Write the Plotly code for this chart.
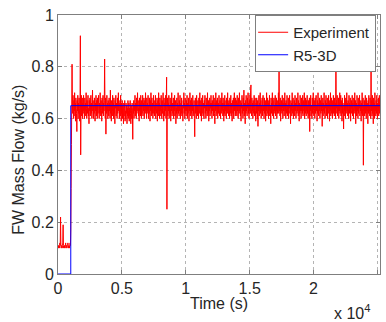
import numpy as np
import plotly.graph_objects as go

# Experiment: feedwater mass flow sampled every 25 s (kg/s), one row = 500 s
exp_dt = 25.0
exp_flow = [
    0.11, 0.10, 0.11, 0.11, 0.10, 0.11, 0.12, 0.11, 0.22, 0.11, 0.10, 0.11, 0.11, 0.10, 0.11, 0.12, 0.19, 0.11, 0.10, 0.11,
    0.11, 0.10, 0.11, 0.11, 0.12, 0.10, 0.11, 0.11, 0.10, 0.11, 0.11, 0.12, 0.11, 0.10, 0.11, 0.11, 0.10, 0.11, 0.12, 0.11,
    0.17, 0.33, 0.50, 0.65, 0.81, 0.66, 0.62, 0.69, 0.64, 0.60, 0.67, 0.63, 0.70, 0.61, 0.66, 0.59, 0.68, 0.64, 0.62, 0.55,
    0.67, 0.63, 0.69, 0.60, 0.66, 0.62, 0.68, 0.64, 0.59, 0.67, 0.92, 0.46, 0.65, 0.69, 0.61, 0.64, 0.68, 0.60, 0.66, 0.63,
    0.69, 0.62, 0.65, 0.60, 0.68, 0.63, 0.66, 0.61, 0.70, 0.64, 0.60, 0.67, 0.62, 0.66, 0.69, 0.61, 0.64, 0.58, 0.67, 0.63,
    0.68, 0.61, 0.65, 0.69, 0.62, 0.66, 0.60, 0.64, 0.71, 0.63, 0.67, 0.60, 0.65, 0.62, 0.68, 0.64, 0.59, 0.66, 0.63, 0.69,
    0.61, 0.67, 0.64, 0.60, 0.68, 0.62, 0.65, 0.69, 0.63, 0.60, 0.66, 0.62, 0.70, 0.64, 0.61, 0.67, 0.63, 0.59, 0.68, 0.65,
    0.62, 0.69, 0.61, 0.66, 0.63, 0.67, 0.83, 0.64, 0.60, 0.68, 0.54, 0.65, 0.62, 0.69, 0.63, 0.66, 0.60, 0.67, 0.64, 0.61,
    0.68, 0.63, 0.66, 0.60, 0.71, 0.62, 0.65, 0.59, 0.67, 0.64, 0.61, 0.69, 0.63, 0.66, 0.60, 0.68, 0.62, 0.65, 0.58, 0.67,
    0.64, 0.69, 0.61, 0.66, 0.63, 0.60, 0.68, 0.62, 0.65, 0.70, 0.63, 0.67, 0.60, 0.64, 0.66, 0.61, 0.69, 0.63, 0.59, 0.66,
    0.62, 0.67, 0.60, 0.65, 0.63, 0.58, 0.66, 0.61, 0.64, 0.67, 0.59, 0.63, 0.60, 0.66, 0.62, 0.65, 0.58, 0.64, 0.61, 0.67,
    0.60, 0.63, 0.66, 0.59, 0.64, 0.61, 0.67, 0.62, 0.58, 0.65, 0.63, 0.60, 0.66, 0.61, 0.52, 0.64, 0.62, 0.67, 0.60, 0.65,
    0.63, 0.69, 0.61, 0.66, 0.64, 0.60, 0.68, 0.62, 0.65, 0.70, 0.63, 0.67, 0.61, 0.64, 0.59, 0.68, 0.63, 0.66, 0.61, 0.69,
    0.64, 0.60, 0.67, 0.62, 0.65, 0.69, 0.61, 0.66, 0.63, 0.68, 0.60, 0.64, 0.67, 0.62, 0.70, 0.63, 0.65, 0.60, 0.68, 0.62,
    0.66, 0.63, 0.69, 0.60, 0.65, 0.62, 0.68, 0.64, 0.59, 0.67, 0.63, 0.70, 0.61, 0.65, 0.68, 0.62, 0.66, 0.60, 0.64, 0.69,
    0.62, 0.67, 0.61, 0.65, 0.63, 0.69, 0.60, 0.66, 0.64, 0.62, 0.68, 0.59, 0.65, 0.67, 0.61, 0.70, 0.63, 0.66, 0.60, 0.68,
    0.63, 0.65, 0.61, 0.69, 0.64, 0.60, 0.67, 0.62, 0.66, 0.70, 0.63, 0.59, 0.68, 0.64, 0.61, 0.66, 0.63, 0.69, 0.60, 0.67,
    0.76, 0.25, 0.64, 0.68, 0.61, 0.66, 0.63, 0.69, 0.60, 0.65, 0.62, 0.68, 0.64, 0.59, 0.67, 0.63, 0.70, 0.61, 0.66, 0.64,
    0.62, 0.68, 0.60, 0.66, 0.63, 0.69, 0.61, 0.65, 0.67, 0.58, 0.64, 0.62, 0.68, 0.60, 0.66, 0.63, 0.70, 0.62, 0.65, 0.61,
    0.67, 0.63, 0.69, 0.60, 0.64, 0.66, 0.62, 0.68, 0.61, 0.65, 0.63, 0.59, 0.67, 0.64, 0.70, 0.62, 0.66, 0.60, 0.68, 0.63,
    0.65, 0.61, 0.67, 0.63, 0.69, 0.60, 0.66, 0.62, 0.64, 0.68, 0.59, 0.65, 0.63, 0.70, 0.61, 0.67, 0.64, 0.62, 0.68, 0.60,
    0.66, 0.63, 0.69, 0.61, 0.65, 0.62, 0.67, 0.60, 0.53, 0.64, 0.68, 0.62, 0.66, 0.60, 0.69, 0.63, 0.65, 0.61, 0.67, 0.64,
    0.60, 0.68, 0.62, 0.66, 0.70, 0.63, 0.61, 0.67, 0.64, 0.59, 0.68, 0.62, 0.65, 0.69, 0.61, 0.66, 0.63, 0.60, 0.67, 0.64,
    0.69, 0.62, 0.65, 0.60, 0.68, 0.63, 0.66, 0.61, 0.70, 0.64, 0.62, 0.67, 0.59, 0.65, 0.63, 0.68, 0.61, 0.66, 0.64, 0.69,
    0.62, 0.66, 0.60, 0.67, 0.63, 0.65, 0.69, 0.61, 0.64, 0.68, 0.62, 0.58, 0.66, 0.63, 0.70, 0.61, 0.65, 0.67, 0.62, 0.68,
    0.60, 0.64, 0.66, 0.62, 0.69, 0.63, 0.61, 0.67, 0.64, 0.60, 0.68, 0.62, 0.65, 0.70, 0.63, 0.66, 0.61, 0.68, 0.64, 0.59,
    0.66, 0.62, 0.69, 0.61, 0.65, 0.63, 0.67, 0.60, 0.68, 0.64, 0.62, 0.70, 0.63, 0.66, 0.61, 0.67, 0.64, 0.60, 0.68, 0.62,
    0.65, 0.69, 0.61, 0.66, 0.63, 0.59, 0.67, 0.64, 0.62, 0.68, 0.60, 0.65, 0.70, 0.63, 0.66, 0.61, 0.68, 0.62, 0.64, 0.67,
    0.61, 0.69, 0.63, 0.66, 0.60, 0.68, 0.64, 0.62, 0.70, 0.63, 0.65, 0.61, 0.67, 0.59, 0.66, 0.64, 0.69, 0.62, 0.65, 0.60,
    0.68, 0.63, 0.71, 0.61, 0.66, 0.64, 0.58, 0.67, 0.62, 0.69, 0.63, 0.65, 0.61, 0.68, 0.64, 0.70, 0.62, 0.66, 0.60, 0.67,
    0.63, 0.69, 0.62, 0.71, 0.73, 0.64, 0.61, 0.68, 0.63, 0.66, 0.60, 0.67, 0.64, 0.62, 0.69, 0.61, 0.65, 0.68, 0.63, 0.59,
    0.66, 0.62, 0.68, 0.64, 0.60, 0.67, 0.57, 0.65, 0.63, 0.69, 0.61, 0.66, 0.64, 0.70, 0.62, 0.67, 0.60, 0.65, 0.63, 0.68,
    0.61, 0.66, 0.69, 0.63, 0.65, 0.60, 0.68, 0.62, 0.64, 0.67, 0.59, 0.66, 0.63, 0.70, 0.61, 0.65, 0.68, 0.62, 0.66, 0.60,
    0.67, 0.63, 0.69, 0.61, 0.65, 0.64, 0.58, 0.68, 0.62, 0.66, 0.63, 0.70, 0.61, 0.67, 0.64, 0.60, 0.68, 0.63, 0.65, 0.62,
    0.69, 0.61, 0.66, 0.63, 0.68, 0.60, 0.65, 0.62, 0.67, 0.64, 0.70, 0.62, 0.86, 0.63, 0.66, 0.61, 0.68, 0.59, 0.65, 0.63,
    0.67, 0.62, 0.69, 0.64, 0.60, 0.66, 0.63, 0.68, 0.61, 0.65, 0.70, 0.63, 0.66, 0.60, 0.67, 0.64, 0.62, 0.69, 0.61, 0.65,
    0.63, 0.68, 0.60, 0.66, 0.64, 0.69, 0.62, 0.65, 0.58, 0.67, 0.63, 0.66, 0.61, 0.70, 0.64, 0.62, 0.68, 0.60, 0.65, 0.63,
    0.67, 0.61, 0.69, 0.63, 0.66, 0.60, 0.64, 0.68, 0.62, 0.65, 0.63, 0.70, 0.61, 0.67, 0.64, 0.59, 0.66, 0.62, 0.69, 0.63,
    0.65, 0.60, 0.68, 0.63, 0.66, 0.62, 0.69, 0.61, 0.64, 0.67, 0.63, 0.70, 0.60, 0.66, 0.62, 0.68, 0.64, 0.61, 0.67, 0.63,
    0.69, 0.62, 0.65, 0.60, 0.67, 0.64, 0.61, 0.68, 0.55, 0.66, 0.63, 0.69, 0.61, 0.65, 0.64, 0.60, 0.68, 0.62, 0.66, 0.70,
    0.63, 0.61, 0.67, 0.64, 0.60, 0.68, 0.62, 0.66, 0.69, 0.63, 0.65, 0.59, 0.67, 0.62, 0.70, 0.64, 0.61, 0.66, 0.63, 0.68,
    0.60, 0.65, 0.67, 0.62, 0.69, 0.63, 0.66, 0.57, 0.64, 0.68, 0.61, 0.66, 0.63, 0.70, 0.62, 0.65, 0.60, 0.67, 0.64, 0.69,
    0.61, 0.66, 0.63, 0.68, 0.60, 0.65, 0.62, 0.69, 0.64, 0.67, 0.59, 0.66, 0.63, 0.70, 0.61, 0.65, 0.68, 0.62, 0.66, 0.60,
    0.67, 0.64, 0.69, 0.62, 0.65, 0.61, 0.68, 0.63, 0.66, 0.60, 0.86, 0.64, 0.67, 0.62, 0.69, 0.61, 0.65, 0.63, 0.68, 0.60,
    0.66, 0.63, 0.70, 0.62, 0.65, 0.69, 0.61, 0.67, 0.64, 0.59, 0.68, 0.62, 0.66, 0.63, 0.56, 0.65, 0.61, 0.69, 0.63, 0.67,
    0.60, 0.68, 0.62, 0.65, 0.70, 0.63, 0.66, 0.61, 0.67, 0.64, 0.60, 0.69, 0.62, 0.66, 0.63, 0.68, 0.59, 0.65, 0.62, 0.67,
    0.64, 0.69, 0.61, 0.66, 0.63, 0.60, 0.68, 0.62, 0.65, 0.70, 0.63, 0.67, 0.58, 0.64, 0.66, 0.61, 0.69, 0.63, 0.65, 0.60,
    0.68, 0.62, 0.66, 0.64, 0.69, 0.61, 0.65, 0.63, 0.67, 0.59, 0.66, 0.62, 0.70, 0.64, 0.61, 0.68, 0.42, 0.65, 0.63, 0.67,
    0.61, 0.66, 0.69, 0.62, 0.65, 0.60, 0.68, 0.63, 0.66, 0.64, 0.58, 0.67, 0.62, 0.69, 0.63, 0.65, 0.61, 0.68, 0.64, 0.60,
    0.86, 0.63, 0.67, 0.61, 0.69, 0.62, 0.65, 0.58, 0.68, 0.64, 0.66, 0.60, 0.70, 0.63, 0.65, 0.61, 0.67, 0.62, 0.69, 0.64,
    0.60, 0.66, 0.63, 0.68, 0.61, 0.65, 0.69, 0.62, 0.66,
]
exp_time = np.arange(len(exp_flow)) * exp_dt

# RELAP5-3D calculation: step from 0 to 0.65 kg/s
sim_time = [0, 1000, 1000, 25200]
sim_flow = [0.0, 0.0, 0.65, 0.65]

x_ticks = [0, 5000, 10000, 15000, 20000, 25000]
x_tick_text = ["0", "0.5", "1", "1.5", "2", "2.5"]
y_ticks = [0, 0.2, 0.4, 0.6, 0.8, 1.0]
y_tick_text = ["0", "0.2", "0.4", "0.6", "0.8", "1"]

FONT = "Liberation Sans, Arial, sans-serif"
FS = 16
TXT = "#262626"
AXIS = "#7f7f7f"
GRID = "#b4b4b4"

fig = go.Figure()
fig.add_trace(go.Scatter(x=exp_time, y=exp_flow, mode="lines", name="Experiment",
                         line=dict(color="rgb(255,0,0)", width=1, simplify=False)))
fig.add_trace(go.Scatter(x=sim_time, y=sim_flow, mode="lines", name="R5-3D",
                         line=dict(color="rgb(0,0,255)", width=1, simplify=False)))

axis_common = dict(showline=True, linecolor=AXIS, linewidth=1, mirror="ticks",
                   ticks="inside", ticklen=4, tickcolor=AXIS, layer="below traces",
                   showgrid=True, gridcolor=GRID, griddash="dot", gridwidth=1,
                   zeroline=False, tickfont=dict(family=FONT, size=FS, color=TXT))

fig.update_xaxes(range=[0, 25200], tickvals=x_ticks, ticktext=x_tick_text, **axis_common)
fig.update_yaxes(range=[0, 1], tickvals=y_ticks, ticktext=y_tick_text, **axis_common)

fig.update_layout(
    width=386, height=322,
    margin=dict(l=58, r=6, t=15, b=48),
    paper_bgcolor="white", plot_bgcolor="white",
    showlegend=True,
    legend=dict(x=0.988, y=1.0, xanchor="right", yanchor="top",
                bgcolor="white", bordercolor=AXIS, borderwidth=1,
                font=dict(family=FONT, size=15, color=TXT),
                tracegroupgap=0, itemwidth=30, indentation=-3),
    annotations=[
        dict(text="FW Mass Flow (kg/s)", xref="paper", yref="paper",
             x=-0.125, y=0.44, textangle=-90, showarrow=False,
             xanchor="center", yanchor="middle",
             font=dict(family=FONT, size=FS, color=TXT)),
        dict(text="Time (s)", xref="paper", yref="paper",
             x=0.5, y=-0.112, showarrow=False, xanchor="center", yanchor="middle",
             font=dict(family=FONT, size=FS, color=TXT)),
        dict(text="x 10<sup>4</sup>", xref="paper", yref="paper",
             x=0.975, y=-0.147, showarrow=False, xanchor="right", yanchor="middle",
             font=dict(family=FONT, size=FS, color=TXT)),
    ],
)

fig.write_html("out.html")
